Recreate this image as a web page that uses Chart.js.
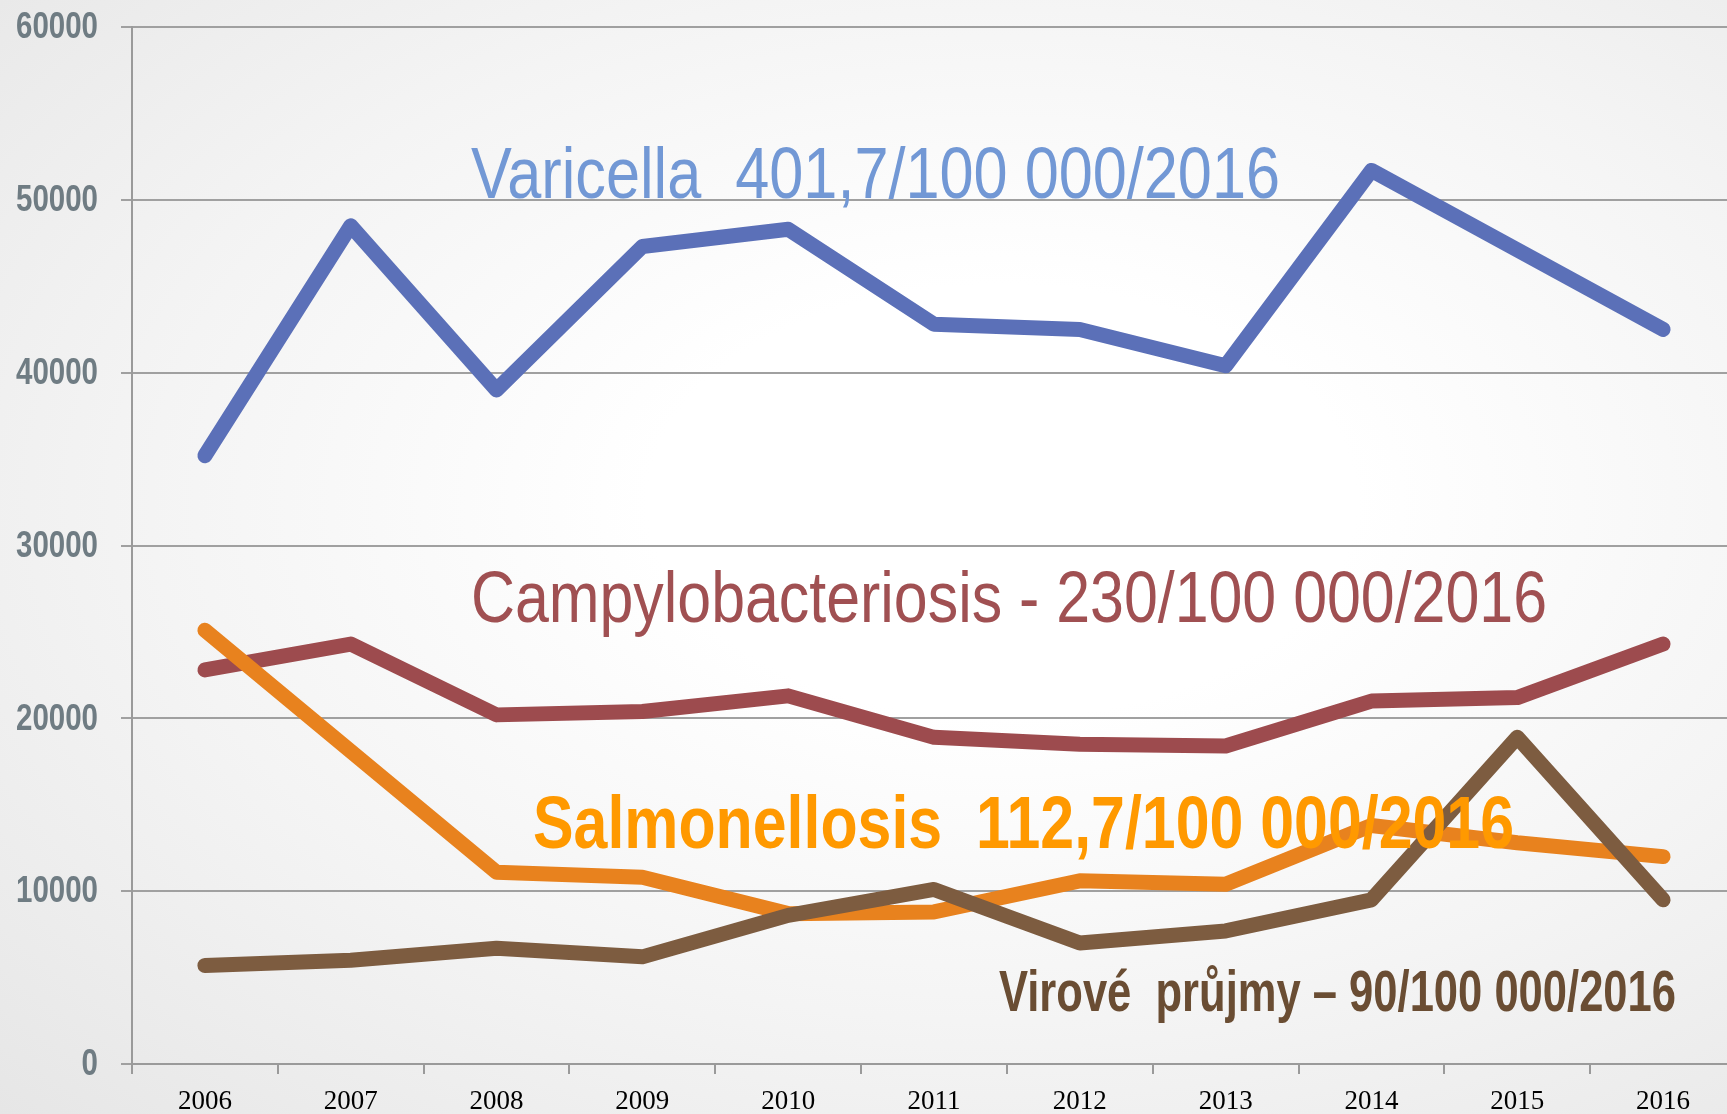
<!DOCTYPE html>
<html>
<head>
<meta charset="utf-8">
<script src="https://cdn.jsdelivr.net/npm/chart.js@4"></script>
<style>
    html, body { margin: 0; padding: 0; overflow: hidden; width: 1727px; height: 1114px; }
    body { background: radial-gradient(ellipse at 58% 45%, #ffffff 25%, #f4f4f4 60%, #e6e6e6 100%); }
    #wrap { position: absolute; left: 0; top: 0; width: 1740px; height: 1140px; }
</style>
</head>
<body>
<div id="wrap"><canvas id="myChart" width="1740" height="1140"></canvas></div>
<script>
const years = ['2006', '2007', '2008', '2009', '2010', '2011', '2012', '2013', '2014', '2015', '2016']
const varicella = [35200, 48500, 39000, 47300, 48300, 42800, 42500, 40400, 51700, 47100, 42500]
const campylo = [22800, 24300, 20200, 20400, 21300, 18900, 18500, 18400, 21000, 21200, 24300]
const salmonella = [25100, 18100, 11100, 10800, 8700, 8800, 10600, 10400, 13800, 12800, 12000]
const virove = [5700, 6000, 6700, 6200, 8600, 10100, 7000, 7700, 9500, 18900, 9500]
const yTicks = [0, 10000, 20000, 30000, 40000, 50000, 60000]

const narrow = '"Liberation Sans Narrow", "Arial Narrow", "Liberation Sans", Arial, sans-serif'

// labels drawn over the plot, each squeezed to the width it has in the picture
const labels = [
    { text: 'Varicella  401,7/100 000/2016', x: 471, y: 198, w: 809, font: '72px ' + narrow, color: '#7298d5' },
    { text: 'Campylobacteriosis - 230/100 000/2016', x: 471, y: 622, w: 1076, font: '72px ' + narrow, color: '#a05052' },
    { text: 'Salmonellosis  112,7/100 000/2016', x: 533, y: 848, w: 981, font: 'bold 74px ' + narrow, color: '#ff9900' },
    { text: 'Virové  průjmy – 90/100 000/2016', x: 999, y: 1011, w: 677, font: 'bold 58px ' + narrow, color: '#6a4d33' }
]

function squeezed(c, text, x, y, w, align) {
    const m = c.measureText(text).width
    const k = Math.min(1, w / m) || 1
    c.save()
    c.translate(x, y)
    c.scale(align === 'right' ? k : w / m, 1)
    c.textAlign = align || 'left'
    c.fillText(text, 0, 0)
    c.restore()
}

const textPlugin = {
    id: 'textLabels',
    afterDatasetsDraw(chart) {
        const c = chart.ctx
        labels.forEach(l => {
            c.save()
            c.font = l.font
            c.fillStyle = l.color
            c.textBaseline = 'alphabetic'
            squeezed(c, l.text, l.x, l.y, l.w, 'left')
            c.restore()
        })
        // y tick labels, narrow bold grey
        const ys = chart.scales.y
        c.save()
        c.font = 'bold 37px ' + narrow
        c.fillStyle = '#6f7c83'
        c.textBaseline = 'middle'
        yTicks.forEach(v => {
            const t = String(v)
            squeezed(c, t, 98, ys.getPixelForValue(v) + 1, 16.4 * t.length, 'right')
        })
        c.restore()
    }
}

function line(label, data, color) {
    return {
        label: label,
        data: data,
        borderColor: color,
        backgroundColor: color,
        borderWidth: 15,
        borderCapStyle: 'round',
        borderJoinStyle: 'round',
        pointRadius: 0,
        tension: 0,
        fill: false
    }
}

const ctx = document.getElementById('myChart').getContext('2d')
const myChart = new Chart(ctx, {
    type: 'line',
    data: {
        labels: years,
        datasets: [
            line('Virové průjmy', virove, '#7d5c40'),
            line('Salmonellosis', salmonella, '#e8821e'),
            line('Campylobacteriosis', campylo, '#9d4b4e'),
            line('Varicella', varicella, '#5b70b8')
        ]
    },
    options: {
        responsive: false,
        animation: false,
        layout: { padding: { top: 27, right: 4, left: 0, bottom: 0 } },
        plugins: { legend: { display: false }, tooltip: { enabled: false } },
        scales: {
            x: {
                offset: true,
                grid: { display: true, drawOnChartArea: false, color: '#9a9a9a', lineWidth: 2, tickLength: 10, offset: true },
                border: { color: '#9a9a9a', width: 2 },
                ticks: { color: '#000', font: { family: '"Liberation Serif", "Times New Roman", serif', size: 27 }, padding: 12, maxRotation: 0 },
                afterFit(scale) { scale.height = 76; scale.paddingLeft = 0; scale.paddingRight = 0 }
            },
            y: {
                min: 0,
                max: 60000,
                afterBuildTicks(scale) { scale.ticks = yTicks.map(v => ({ value: v })) },
                grid: { color: '#a0a0a0', lineWidth: 2, tickLength: 11 },
                border: { color: '#9a9a9a', width: 2 },
                ticks: { display: false },
                afterFit(scale) { scale.width = 132; scale.paddingTop = 0; scale.paddingBottom = 0 }
            }
        }
    },
    plugins: [textPlugin]
})
</script>
</body>
</html>
